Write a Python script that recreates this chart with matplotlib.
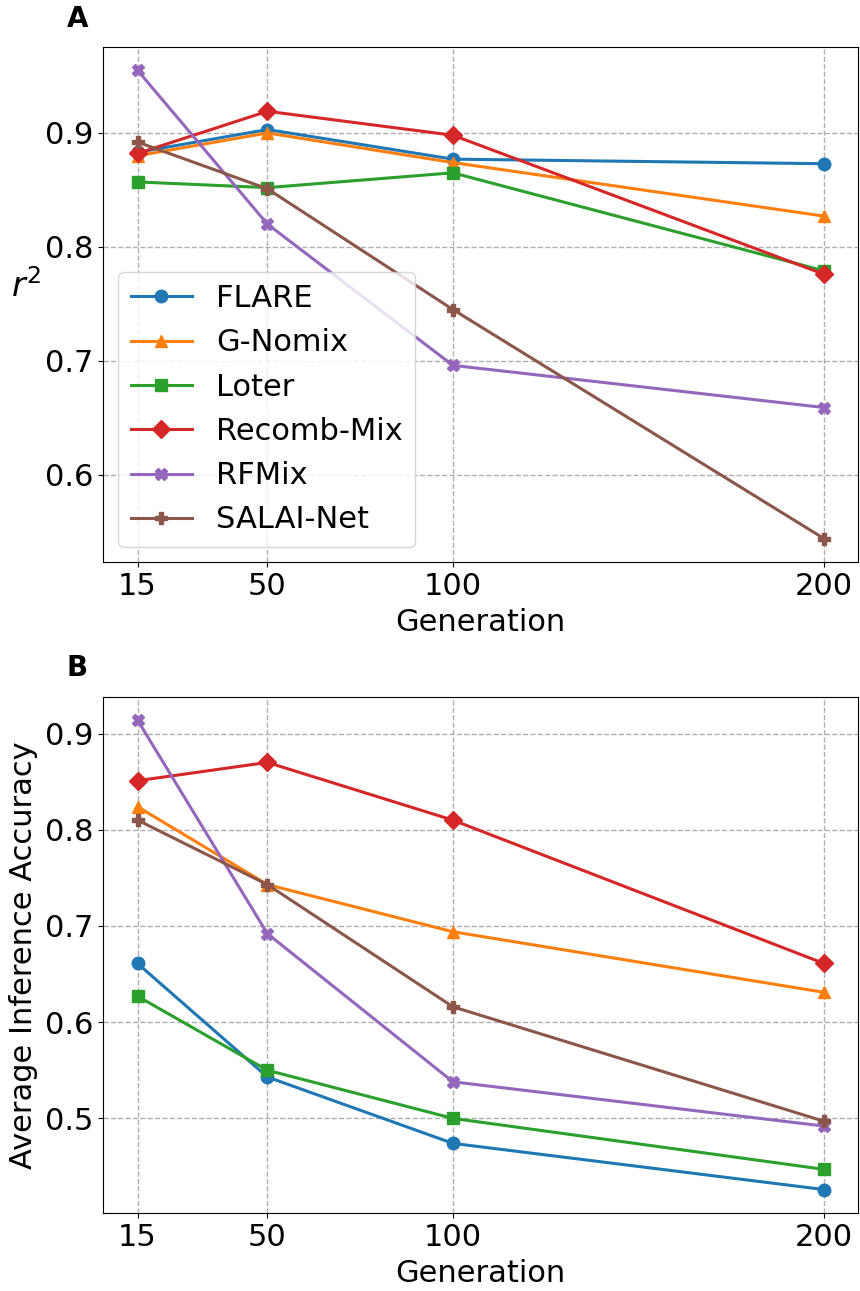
import numpy as np
import matplotlib
matplotlib.use('Agg')
import matplotlib.pyplot as plt

generations = [15, 50, 100, 200]
methods = ['FLARE', 'G-Nomix', 'Loter', 'Recomb-Mix', 'RFMix', 'SALAI-Net']
markers = ['o', '^', 's', 'D', 'X', 'P']

# panel A: r^2
r2_flare = [0.883, 0.903, 0.877, 0.873]
r2_gnomix = [0.880, 0.900, 0.874, 0.827]
r2_loter = [0.857, 0.852, 0.865, 0.779]
r2_recomb = [0.882, 0.919, 0.898, 0.776]
r2_rfmix = [0.955, 0.820, 0.696, 0.659]
r2_salai = [0.892, 0.851, 0.745, 0.544]

# panel B: average inference accuracy
acc_flare = [0.661, 0.543, 0.474, 0.426]
acc_gnomix = [0.824, 0.743, 0.694, 0.631]
acc_loter = [0.627, 0.550, 0.500, 0.447]
acc_recomb = [0.851, 0.870, 0.810, 0.661]
acc_rfmix = [0.914, 0.692, 0.538, 0.492]
acc_salai = [0.810, 0.743, 0.616, 0.497]

r2_all = [r2_flare, r2_gnomix, r2_loter, r2_recomb, r2_rfmix, r2_salai]
acc_all = [acc_flare, acc_gnomix, acc_loter, acc_recomb, acc_rfmix, acc_salai]

fs = 22

fig = plt.figure(figsize=(8.6, 12.91), dpi=100)
ax1 = fig.add_axes([0.12, 0.5647, 0.878, 0.399])
ax2 = fig.add_axes([0.12, 0.0604, 0.878, 0.400])

for ax, data in [(ax1, r2_all), (ax2, acc_all)]:
    for name, mk, vals in zip(methods, markers, data):
        ax.plot(generations, vals, marker=mk, markersize=9, linewidth=2.2, label=name)
    ax.set_xticks(generations)
    ax.set_xlabel('Generation', fontsize=fs, labelpad=5)
    ax.tick_params(labelsize=fs)
    ax.grid(True, linestyle='--', color='#b0b0b0', linewidth=1)

ax1.set_ylabel('$r^2$', fontsize=fs + 2, rotation=0, labelpad=14)
ax1.legend(loc='lower left', fontsize=fs, handlelength=2.0)
ax2.set_ylabel('Average Inference Accuracy', fontsize=fs, labelpad=5)

fig.text(0.09, 0.985, 'A', fontsize=20, fontweight='bold', ha='center', va='center')
fig.text(0.09, 0.4825, 'B', fontsize=20, fontweight='bold', ha='center', va='center')

fig.savefig('out.png', dpi=100)
